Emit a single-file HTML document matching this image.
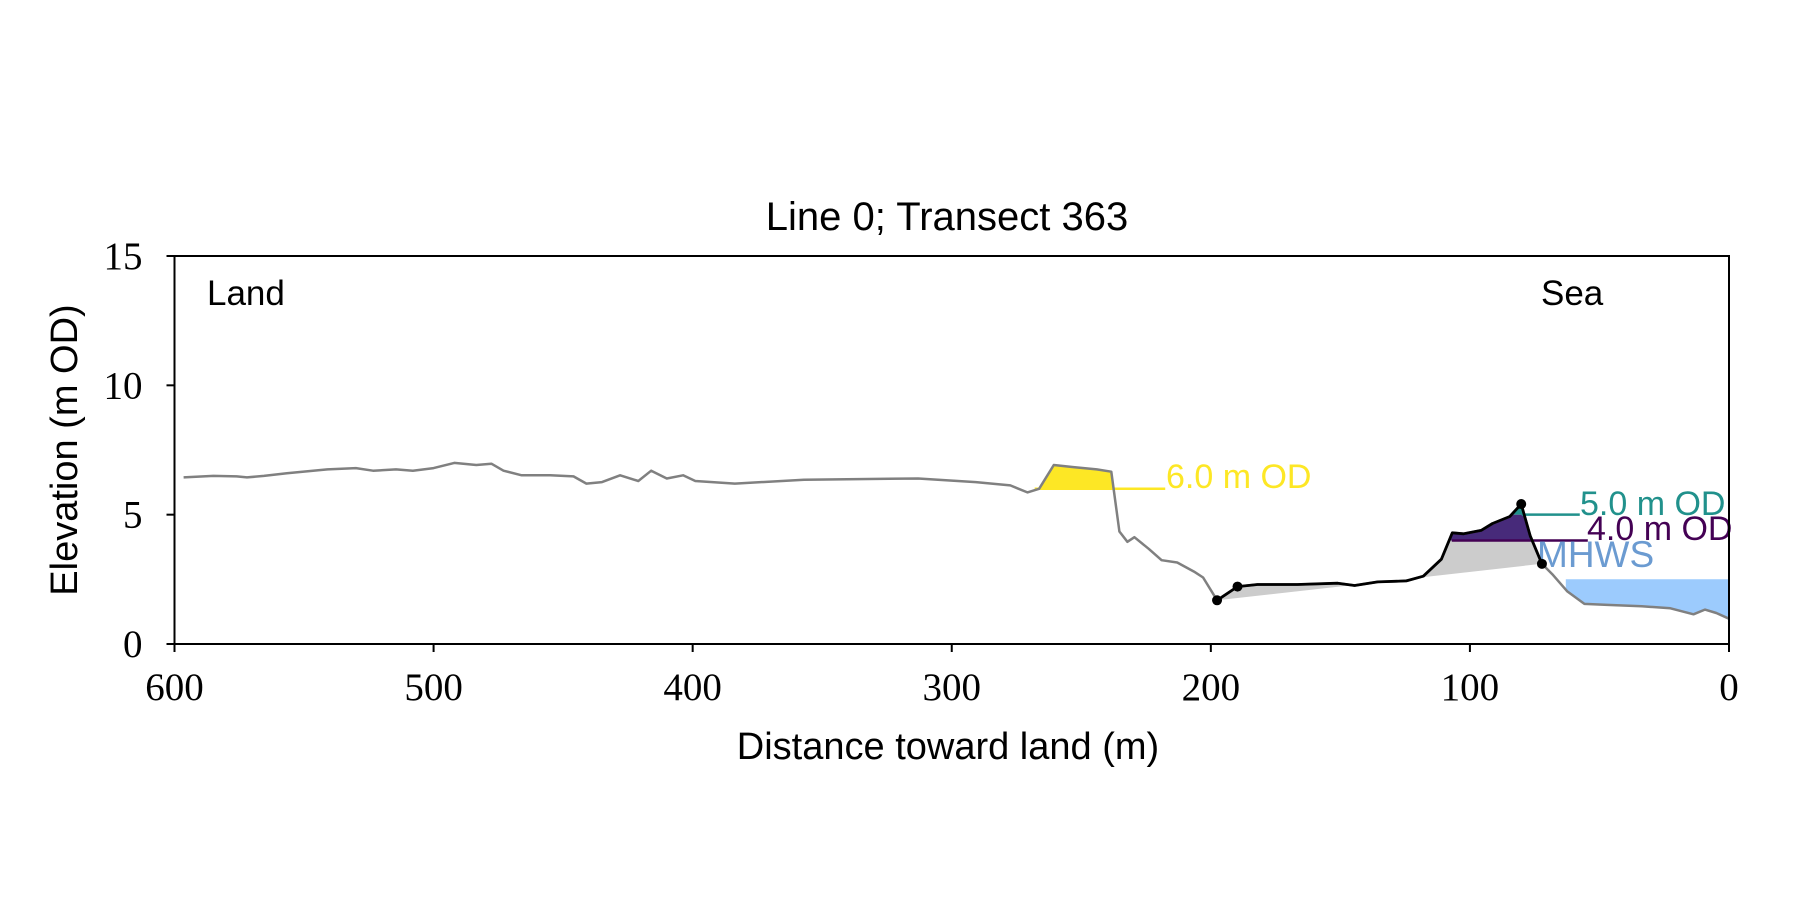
<!DOCTYPE html>
<html><head><meta charset="utf-8"><style>
body{margin:0;background:#fff}
svg{display:block}
.sans{font-family:"Liberation Sans",sans-serif}
.serif{font-family:"Liberation Serif",serif}
</style></head><body>
<svg id="chart" width="1800" height="900" viewBox="0 0 1800 900">
<defs>
<clipPath id="clipAbove6"><rect id="r6" x="0" y="0" width="1800" height="0"/></clipPath>
<clipPath id="clipBand45"><rect id="r45" x="0" y="0" width="1800" height="0"/></clipPath>
<clipPath id="clipAbove5"><rect id="r5" x="0" y="0" width="1800" height="0"/></clipPath>
<clipPath id="clipBelow4"><rect id="r4" x="0" y="0" width="1800" height="900"/></clipPath>
</defs>
<g id="fills"></g>
<g id="lines"></g>
<g id="axes"></g>
<text x="947" y="230" text-anchor="middle" class="sans" font-size="40">Line 0; Transect 363</text>
<text x="207" y="305" class="sans" font-size="35">Land</text>
<text x="1541" y="305" class="sans" font-size="35">Sea</text>
<text x="948" y="759" text-anchor="middle" class="sans" font-size="38">Distance toward land (m)</text>
<text transform="translate(77,450) rotate(-90)" text-anchor="middle" class="sans" font-size="38">Elevation (m OD)</text>
</svg>
<script>
const dist=[596.5,585,576,572,565.5,556.6,541,530,523.4,514.5,508,500,492,483.5,477.7,473,466,455,446,441,435,428,421,416,410,403.7,399,383.7,357,313,290.7,277.4,270.8,266.3,260.6,253,244,238.4,235.3,232.2,229.5,224,219,213,206.5,203,197.6,189.7,182,166.6,151,144.5,135.6,124.5,118,111,106.8,102.4,95.7,91.3,84.6,80.2,76.7,72.2,68.2,62.5,55.8,47,33.7,22.6,13.7,9.3,4.9,0];
const elev=[6.44,6.5,6.48,6.44,6.5,6.6,6.75,6.8,6.7,6.75,6.7,6.8,7.0,6.92,6.97,6.7,6.52,6.52,6.48,6.2,6.26,6.52,6.3,6.7,6.4,6.52,6.3,6.2,6.35,6.4,6.26,6.13,5.86,6.0,6.92,6.84,6.75,6.66,4.35,3.95,4.13,3.68,3.24,3.15,2.8,2.57,1.69,2.22,2.3,2.3,2.35,2.26,2.4,2.44,2.62,3.28,4.3,4.26,4.39,4.66,4.93,5.41,4.17,3.1,2.7,2.04,1.55,1.51,1.46,1.38,1.15,1.33,1.2,0.98];
const markerDist=[197.6,189.7,80.2,72.2];
const levels=[6.0,5.0,4.0];
const levelLabels=["6.0 m OD","5.0 m OD","4.0 m OD"];
const mhws=2.5;
const xTicks=[600,500,400,300,200,100,0];
const yTicks=[0,5,10,15];
const L=174.5,R=1729,T=256,B=644;
const X=d=>L+(600-d)/600*(R-L);
const Y=e=>B-e/15*(B-T);
const NS="http://www.w3.org/2000/svg";
function mk(tag,parent,attrs){const el=document.createElementNS(NS,tag);for(const k in attrs)el.setAttribute(k,attrs[k]);document.getElementById(parent).appendChild(el);return el;}
function elevAt(d){for(let i=0;i<dist.length-1;i++){if(dist[i]>=d&&d>=dist[i+1]){const t=(dist[i]-d)/(dist[i]-dist[i+1]);return elev[i]+t*(elev[i+1]-elev[i]);}}return elev[elev.length-1];}
function seg(d0,d1){const pts=[[d0,elevAt(d0)]];dist.forEach((d,i)=>{if(d<d0&&d>d1)pts.push([d,elev[i]]);});pts.push([d1,elevAt(d1)]);return pts;}
const P=pts=>pts.map(p=>X(p[0]).toFixed(1)+","+Y(p[1]).toFixed(1)).join(" ");
document.getElementById('r6').setAttribute('height',Y(levels[0]));
document.getElementById('r5').setAttribute('height',Y(levels[1]));
document.getElementById('r45').setAttribute('y',Y(levels[1]));
document.getElementById('r45').setAttribute('height',Y(levels[2])-Y(levels[1]));
document.getElementById('r4').setAttribute('y',Y(levels[2]));
let s=seg(268,236.5);
let el=mk('polygon','fills',{points:P(s.concat([[236.5,0],[268,0]])),fill:'#fde725','clip-path':'url(#clipAbove6)'});


s=seg(markerDist[0],markerDist[3]);
el=mk('polygon','fills',{points:P(s),fill:'#cccccc','clip-path':'url(#clipBelow4)'});


s=seg(110,76);
el=mk('polygon','fills',{points:P(s.concat([[76,0],[110,0]])),fill:'#472a7a','clip-path':'url(#clipBand45)'});


el=mk('polygon','fills',{points:P(s.concat([[76,0],[110,0]])),fill:'#21918c','clip-path':'url(#clipAbove5)'});


s=seg(63,0);
el=mk('polygon','fills',{points:P(s.concat([[0,mhws],[63,mhws]])),fill:'#9ccbfd'});


const lvlCol=['#fde725','#21918c','#440154'];
const lvlRange=[[268,217.6],[80,57.6],[107,54.5]];
const lblPos=[[1166,488],[1580,515],[1587,540]];
levels.forEach((lv,i)=>{
 const ln=mk('line','lines',{x1:X(lvlRange[i][0]),x2:X(lvlRange[i][1]),y1:Y(lv),y2:Y(lv),stroke:lvlCol[i],'stroke-width':2.5});
 
 
 const tx=mk('text','lines',{x:lblPos[i][0],y:lblPos[i][1],fill:lvlCol[i],'font-size':34,class:'sans'});
 tx.textContent=levelLabels[i];
 
 
});
el=mk('text','lines',{x:1537,y:567,fill:'#6b9bd1','font-size':37,class:'sans'});
el.textContent='MHWS';


el=mk('polyline','lines',{points:P(dist.map((d,i)=>[d,elev[i]])),fill:'none',stroke:'#808080','stroke-width':2.5,'stroke-linejoin':'round'});


el=mk('polyline','lines',{points:P(seg(markerDist[0],markerDist[3])),fill:'none',stroke:'#000','stroke-width':2.8,'stroke-linejoin':'round'});


markerDist.forEach(d=>{
 const c=mk('circle','lines',{cx:X(d),cy:Y(elevAt(d)),r:5,fill:'#000'});
 
 
});
el=mk('rect','axes',{x:L,y:T,width:R-L,height:B-T,fill:'none',stroke:'#000','stroke-width':2});


xTicks.forEach(t=>{
 const l=mk('line','axes',{x1:X(t),x2:X(t),y1:B,y2:B+8,stroke:'#000','stroke-width':2});
 
 
 const tx=mk('text','axes',{x:X(t),y:B+56,'text-anchor':'middle','font-size':39,class:'serif'});
 tx.textContent=t;
 
 
});
yTicks.forEach(t=>{
 const l=mk('line','axes',{x1:L-8,x2:L,y1:Y(t),y2:Y(t),stroke:'#000','stroke-width':2});
 
 
 const tx=mk('text','axes',{x:L-32,y:Y(t)+13,'text-anchor':'end','font-size':39,class:'serif'});
 tx.textContent=t;
 
 
});
</script>
</body></html>
